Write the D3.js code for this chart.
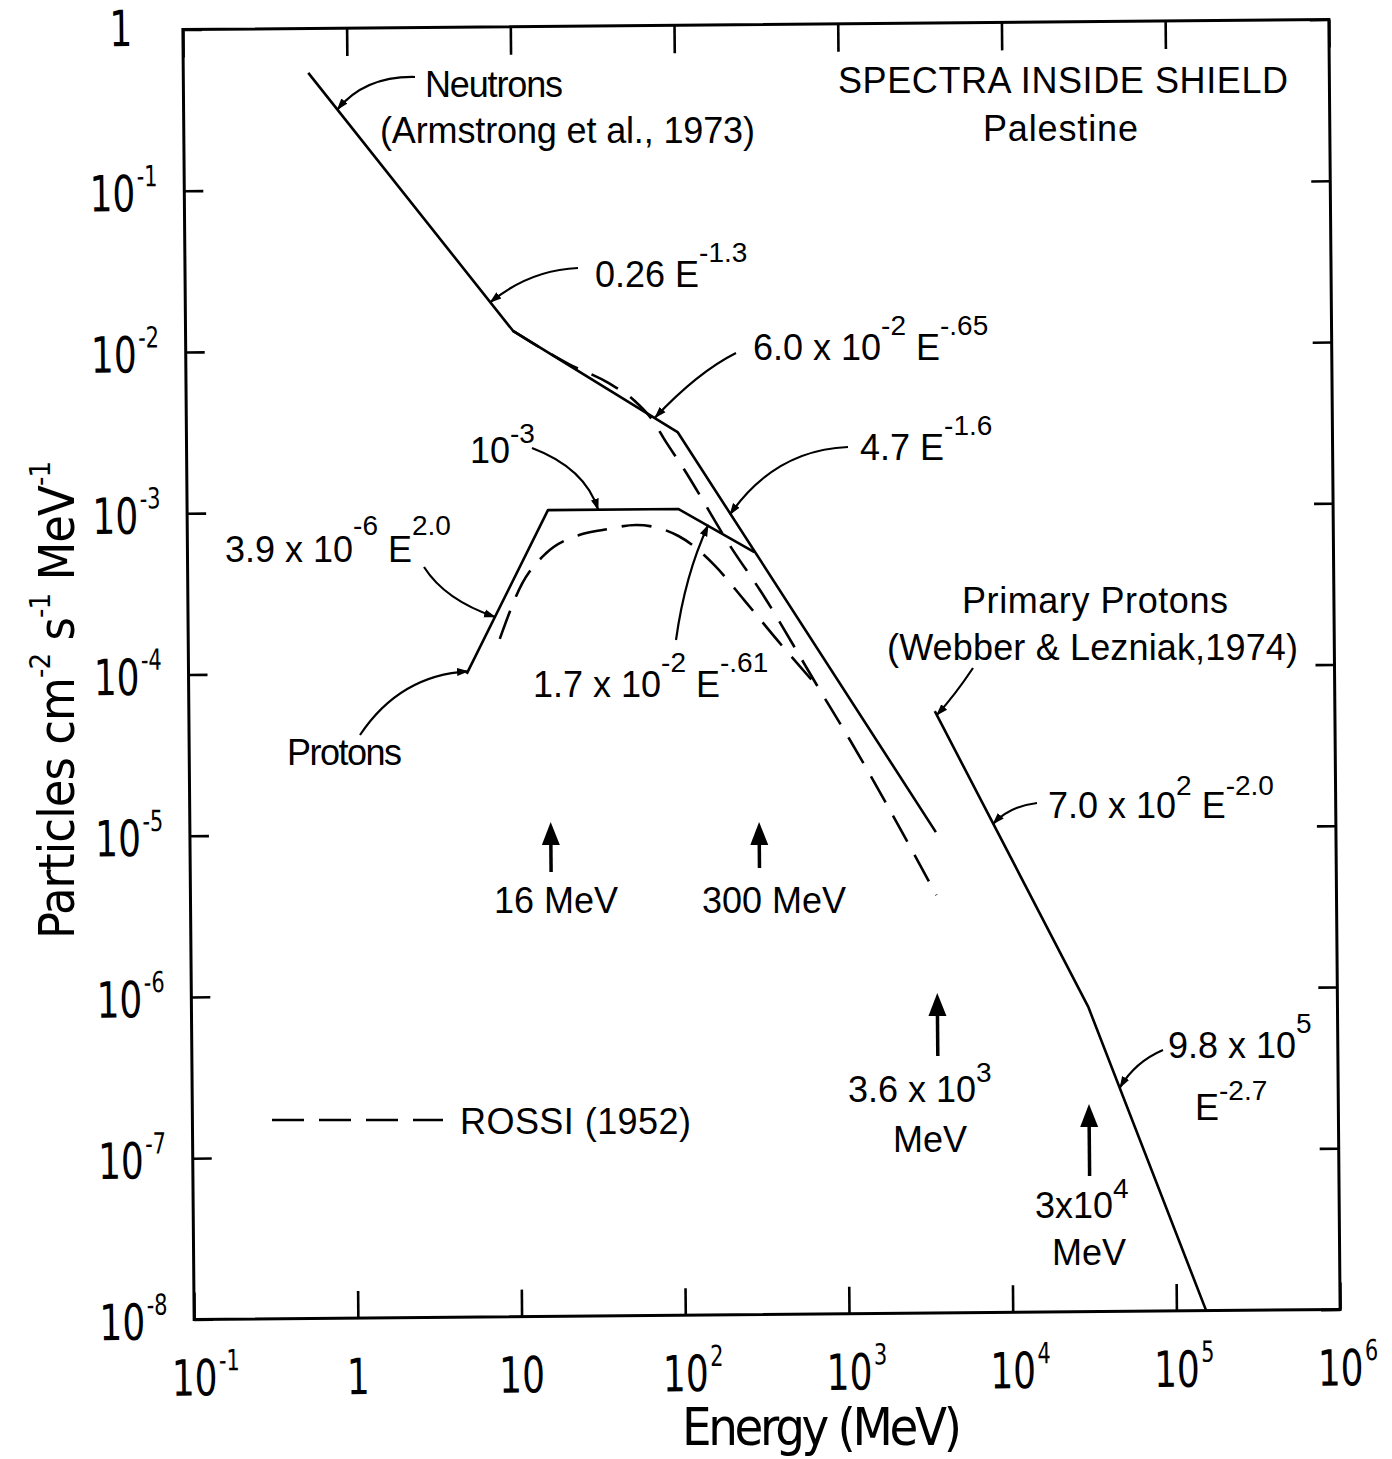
<!DOCTYPE html>
<html>
<head>
<meta charset="utf-8">
<script src="https://cdnjs.cloudflare.com/ajax/libs/d3/7.8.5/d3.min.js"></script>
<style>
  body { margin: 0; background: #fff; }
  text { white-space: pre; fill: #000; }
</style>
</head>
<body>
<svg id="chart" width="1392" height="1459"></svg>
<script>
// Spectra inside shield, Palestine. Energy in MeV, flux in particles cm^-2 s^-1 MeV^-1.

// Neutrons (Armstrong et al., 1973): broken power law 0.26E^-1.3 / 6.0e-2 E^-.65 / 4.7E^-1.6
const neutronE = [0.58, 10, 100, 3600];
const neutronF = [0.53, 0.013, 3.0e-3, 9.6e-6];

// Protons: 3.9e-6 E^2.0 / 1e-3 / 1.7e-2 E^-.61, joining the neutron line
const protonE = [5, 16, 100, 290];
const protonF = [9.75e-5, 1.0e-3, 1.0e-3, 5.35e-4];

// Primary protons (Webber & Lezniak, 1974): 7.0e2 E^-2.0 / 9.8e5 E^-2.7
const primaryE = [3600, 30000, 152000];
const primaryF = [5.4e-5, 7.8e-7, 1.0e-8];

// Rossi (1952), neutrons and protons (dashed)
const rossiNeutronE = [10, 22, 38, 55, 70, 85, 103, 215, 313, 700, 1090, 3600];
const rossiNeutronF = [0.013, 0.0080, 0.0061, 0.0047, 0.0036, 0.0026, 0.00193, 5.5e-4, 3.1e-4, 7.7e-5, 3.6e-5, 3.9e-6];
const rossiProtonE = [8, 11, 15.5, 25, 35, 55, 100, 164, 250, 400, 700];
const rossiProtonF = [1.6e-4, 3.5e-4, 5.4e-4, 7.0e-4, 7.5e-4, 8.0e-4, 6.8e-4, 4.5e-4, 2.7e-4, 1.5e-4, 7.7e-5];

// Marked energies
const markerE = [16, 300, 3600, 30000];
const markerLabels = [["16 MeV"], ["300 MeV"], ["3.6 x 10^{3}", "MeV"], ["3x10^{4}", "MeV"]];

// Axis ticks
const xTicks = [0.1, 1, 10, 100, 1e3, 1e4, 1e5, 1e6];
const xTickBase = ["10", "1", "10", "10", "10", "10", "10", "10"];
const xTickExp = ["-1", "", "", "2", "3", "4", "5", "6"];
const yTicks = [1, 1e-1, 1e-2, 1e-3, 1e-4, 1e-5, 1e-6, 1e-7, 1e-8];
const yTickBase = ["1", "10", "10", "10", "10", "10", "10", "10", "10"];
const yTickExp = ["", "-1", "-2", "-3", "-4", "-5", "-6", "-7", "-8"];

const W = 1392, H = 1459;
const L = 188.5, R = 1334.5, T = 24.5, B = 1314.5;
const TILT = -0.5, CX = 761.5, CY = 669.5;
const FONT = "'Liberation Sans', Arial, sans-serif";
const NARROW = "'Liberation Sans Narrow', 'DejaVu Sans Condensed', sans-serif";

const x = d3.scaleLog().domain([0.1, 1e6]).range([L, R]);
const y = d3.scaleLog().domain([1e-8, 1]).range([B, T]);

const svg = d3.select("#chart");
svg.append("rect").attr("width", W).attr("height", H).attr("fill", "#fff");

// page coordinates -> coordinates inside the tilted plot group
function local(px, py) {
  const a = -TILT * Math.PI / 180;
  const dx = px - CX, dy = py - CY;
  return [CX + dx * Math.cos(a) - dy * Math.sin(a), CY + dx * Math.sin(a) + dy * Math.cos(a)];
}

// text with ^{...} superscripts
function rich(parent, str, px, py, o = {}) {
  const size = o.size || 36, sup = o.sup || 28, raise = o.raise || 25;
  const t = parent.append("text").attr("x", px).attr("y", py)
    .attr("font-family", o.family || FONT).attr("font-size", size)
    .attr("text-anchor", o.anchor || "start");
  if (o.len) t.attr("textLength", o.len).attr("lengthAdjust", "spacing");
  if (o.transform) t.attr("transform", o.transform);
  let level = 0;
  const add = (txt, isSup) => {
    if (!txt) return;
    const target = isSup ? -raise : 0;
    const ts = t.append("tspan").attr("dy", target - level).text(txt);
    if (isSup) ts.attr("font-size", sup);
    level = target;
  };
  const re = /\^\{([^}]*)\}/g;
  let last = 0, m;
  while ((m = re.exec(str))) {
    add(str.slice(last, m.index), false);
    add(m[1], true);
    last = re.lastIndex;
  }
  add(str.slice(last), false);
  return t;
}

const g = svg.append("g").attr("transform", `rotate(${TILT},${CX},${CY})`);

// arrowhead markers
const defs = svg.append("defs");
defs.append("marker").attr("id", "tip").attr("viewBox", "0 -5 12 10")
  .attr("refX", 11).attr("refY", 0).attr("markerWidth", 12).attr("markerHeight", 10)
  .attr("markerUnits", "userSpaceOnUse").attr("orient", "auto")
  .append("path").attr("d", "M0,-4L12,0L0,4Z").attr("fill", "#000");

// frame
g.append("rect").attr("x", L).attr("y", T).attr("width", R - L).attr("height", B - T)
  .attr("fill", "none").attr("stroke", "#000").attr("stroke-width", 3);

// inward ticks on all four sides
function ticks(axis, tx, ty) {
  const a = g.append("g").attr("transform", `translate(${tx},${ty})`).call(axis);
  a.select(".domain").remove();
  a.selectAll(".tick line").attr("stroke", "#000").attr("stroke-width", 2.6);
  a.selectAll(".tick text").remove();
}
ticks(d3.axisBottom(x).tickValues(xTicks).tickSize(-27).tickFormat(""), 0, B);
ticks(d3.axisTop(x).tickValues(xTicks).tickSize(-28).tickFormat(""), 0, T);
ticks(d3.axisLeft(y).tickValues(yTicks).tickSize(-19).tickFormat(""), L, 0);
ticks(d3.axisRight(y).tickValues(yTicks).tickSize(-19).tickFormat(""), R, 0);

// tick labels: condensed lettering, base and exponent in one text element
const SQ = 0.8;
const probe = g.append("text").attr("font-family", NARROW).attr("font-size", 50).text("10");
const w10 = probe.node().getComputedTextLength() * SQ;
probe.attr("font-size", 50).text("1");
const w1 = probe.node().getComputedTextLength() * SQ;
probe.remove();

function tickLabel(base, exp, px, py) {
  const t = g.append("text").attr("transform", `translate(${px},${py}) scale(${SQ},1)`)
    .attr("font-family", NARROW).attr("font-size", 50);
  t.append("tspan").text(base);
  if (exp) t.append("tspan").attr("dx", 2).attr("dy", -25).attr("font-size", 29).text(exp);
}
xTicks.forEach((v, i) => {
  const w = xTickBase[i] === "10" ? w10 : w1;
  tickLabel(xTickBase[i], xTickExp[i], x(v) - w / 2, B + 76);
});
yTicks.forEach((v, i) => {
  if (!yTickExp[i]) {
    tickLabel(yTickBase[i], "", L - 62 - w1 / 2, y(v) + 16);
    return;
  }
  tickLabel(yTickBase[i], yTickExp[i], L - 49 - w10, y(v) + 20);
});

// spectra
const zip = (a, b) => a.map((v, i) => [v, b[i]]);
const straight = d3.line().x(d => x(d[0])).y(d => y(d[1]));
const smooth = d3.line().x(d => x(d[0])).y(d => y(d[1])).curve(d3.curveMonotoneX);

const solid = (pts) => g.append("path").attr("d", straight(pts)).attr("fill", "none")
  .attr("stroke", "#000").attr("stroke-width", 2.6).attr("stroke-linejoin", "round");
const dashed = (pts) => g.append("path").attr("d", smooth(pts)).attr("fill", "none")
  .attr("stroke", "#000").attr("stroke-width", 2.6).attr("stroke-dasharray", "30,15");

dashed(zip(rossiNeutronE, rossiNeutronF));
dashed(zip(rossiProtonE, rossiProtonF));
solid(zip(neutronE, neutronF));
solid(zip(protonE, protonF));
solid(zip(primaryE, primaryF));

// callouts: label side in page coordinates, tip on a spectrum
const callouts = [
  { tail: [415, 77], ctrl: [365, 76], at: [0.87, 0.313] },
  { tail: [578, 268], ctrl: [530, 270], at: [7.3, 0.0196] },
  { tail: [736, 353], ctrl: [698, 372], at: [73, 3.7e-3] },
  { tail: [848, 447], ctrl: [775, 450], at: [207, 9.2e-4] },
  { tail: [532, 448], ctrl: [585, 468], at: [32.4, 1.0e-3] },
  { tail: [424, 567], ctrl: [445, 600], at: [7.5, 2.19e-4] },
  { tail: [676, 640], ctrl: [685, 575], at: [152, 7.9e-4] },
  { tail: [360, 735], ctrl: [400, 675], at: [5.1, 1.01e-4] },
  { tail: [973, 668], ctrl: [955, 695], at: [3700, 5.1e-5] },
  { tail: [1037, 803], ctrl: [1010, 806], at: [8070, 1.075e-5] },
  { tail: [1163, 1050], ctrl: [1135, 1062], at: [46500, 2.45e-7] }
];
callouts.forEach(c => {
  const t = local(...c.tail), q = local(...c.ctrl);
  g.append("path")
    .attr("d", `M${t[0]},${t[1]}Q${q[0]},${q[1]} ${x(c.at[0])},${y(c.at[1])}`)
    .attr("fill", "none").attr("stroke", "#000").attr("stroke-width", 2.2)
    .attr("marker-end", "url(#tip)");
});

// upward arrows at the marked energies
const arrowY = [[822, 872], [822, 868], [993, 1056], [1104, 1176]];
markerE.forEach((e, i) => {
  const ax = x(e);
  const tip = local(ax, arrowY[i][0])[1], tail = local(ax, arrowY[i][1])[1];
  g.append("line").attr("x1", ax).attr("x2", ax).attr("y1", tail).attr("y2", tip + 10)
    .attr("stroke", "#000").attr("stroke-width", 3.5);
  g.append("path").attr("d", `M${ax},${tip}L${ax - 9},${tip + 23}L${ax + 9},${tip + 23}Z`)
    .attr("fill", "#000");
});

// labels (page coordinates)
const lab = svg.append("g");
const plain = (s, px, py, len, size = 36) => lab.append("text").attr("x", px).attr("y", py)
  .attr("font-family", FONT).attr("font-size", size)
  .attr("textLength", len).attr("lengthAdjust", "spacing").text(s);

plain("Neutrons", 425, 97, 138);
plain("(Armstrong et al., 1973)", 380, 143, 375);
plain("SPECTRA INSIDE SHIELD", 838, 93, 450, 36);
plain("Palestine", 983, 141, 155);

rich(lab, "0.26 E^{-1.3}", 595, 287);
rich(lab, "6.0 x 10^{-2} E^{-.65}", 753, 360);
rich(lab, "4.7 E^{-1.6}", 860, 460);
rich(lab, "10^{-3}", 470, 463, { raise: 20 });
rich(lab, "3.9 x 10^{-6} E^{2.0}", 225, 562, { raise: 27 });
rich(lab, "1.7 x 10^{-2} E^{-.61}", 533, 697);
plain("Protons", 287, 765, 115);

plain("Primary Protons", 962, 613, 266);
plain("(Webber & Lezniak,1974)", 887, 660, 411);
rich(lab, "7.0 x 10^{2} E^{-2.0}", 1048, 818, { raise: 23 });
rich(lab, "9.8 x 10^{5}", 1168, 1058);
rich(lab, "E^{-2.7}", 1195, 1120, { raise: 20 });

// marked-energy captions
const capPos = [[[494, 913]], [[702, 913]], [[848, 1102], [893, 1152]], [[1035, 1218], [1052, 1265]]];
markerLabels.forEach((lines, i) => {
  lines.forEach((s, j) => rich(lab, s, capPos[i][j][0], capPos[i][j][1], { raise: 20 }));
});

// legend
lab.append("line").attr("x1", 272).attr("x2", 443).attr("y1", 1120).attr("y2", 1120)
  .attr("stroke", "#000").attr("stroke-width", 2.6).attr("stroke-dasharray", "32,15");
plain("ROSSI (1952)", 460, 1134, 231);

// axis titles
lab.append("text").attr("x", 822).attr("y", 1445).attr("text-anchor", "middle")
  .attr("font-family", NARROW).attr("font-size", 52)
  .attr("textLength", 280).attr("lengthAdjust", "spacing").text("Energy (MeV)");
rich(lab, "Particles cm^{-2} s^{-1} MeV^{-1}", 0, 0, {
  family: NARROW, size: 50, sup: 29, raise: 24, anchor: "middle", len: 478,
  transform: "translate(74,700) rotate(-90)"
});
</script>
</body>
</html>
